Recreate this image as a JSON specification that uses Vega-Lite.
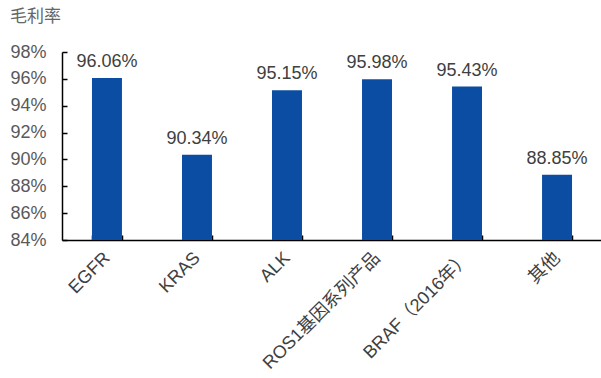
{
  "$schema": "https://vega.github.io/schema/vega-lite/v6.json",
  "width": 540,
  "height": 188,
  "autosize": {"type": "none"},
  "padding": {"left": 62, "top": 52, "right": 0, "bottom": 138},
  "background": "white",
  "title": {
    "text": "毛利率",
    "anchor": "start",
    "frame": "group",
    "orient": "top",
    "offset": 17,
    "dx": -52,
    "font": "Noto Sans CJK SC",
    "fontSize": 17,
    "fontWeight": "normal",
    "color": "#666666"
  },
  "data": {
    "values": [
      {"category": "EGFR", "margin": 96.06},
      {"category": "KRAS", "margin": 90.34},
      {"category": "ALK", "margin": 95.15},
      {"category": "ROS1基因系列产品", "margin": 95.98},
      {"category": "BRAF（2016年）", "margin": 95.43},
      {"category": "其他", "margin": 88.85}
    ]
  },
  "encoding": {
    "x": {
      "field": "category",
      "type": "nominal",
      "sort": null,
      "scale": {"paddingInner": 0.667, "paddingOuter": 0.333},
      "axis": {
        "title": null,
        "labelAngle": -45,
        "labelAlign": "right",
        "labelBaseline": "middle",
        "labelFont": "Liberation Sans, Noto Sans CJK SC",
        "labelFontSize": 18,
        "labelColor": "#404040",
        "labelPadding": 20,
        "tickBand": "extent",
        "tickSize": -5,
        "tickColor": "#000000",
        "tickWidth": 1.5,
        "domainColor": "#000000",
        "domainWidth": 1.5,
        "grid": false
      }
    },
    "y": {
      "field": "margin",
      "type": "quantitative",
      "scale": {"domain": [84, 98], "nice": false, "zero": false},
      "axis": {
        "title": null,
        "values": [84, 86, 88, 90, 92, 94, 96, 98],
        "labelExpr": "datum.value + '%'",
        "labelFont": "Liberation Sans",
        "labelFontSize": 18,
        "labelColor": "#595959",
        "labelPadding": 21,
        "tickSize": -5,
        "tickColor": "#000000",
        "tickWidth": 1.5,
        "domainColor": "#000000",
        "domainWidth": 1.5,
        "grid": false
      }
    }
  },
  "layer": [
    {
      "mark": {"type": "bar", "color": "#0B4DA2", "clip": true}
    },
    {
      "mark": {
        "type": "text",
        "baseline": "bottom",
        "dy": -7,
        "font": "Liberation Sans",
        "fontSize": 18,
        "color": "#404040",
        "text": {"expr": "format(datum.margin, '.2f') + '%'"}
      }
    }
  ],
  "config": {"view": {"stroke": null}}
}
